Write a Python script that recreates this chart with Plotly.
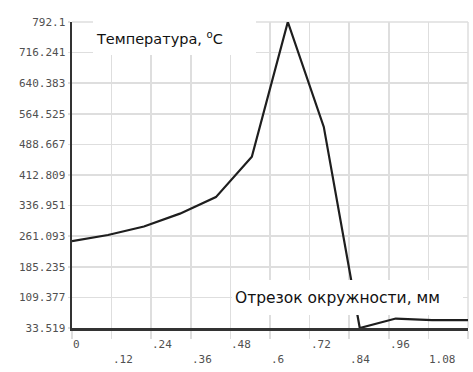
import plotly.graph_objects as go

# ---- data ----
x_vals = [0.0, 0.109, 0.218, 0.327, 0.436, 0.545, 0.654, 0.763, 0.872, 0.981, 1.091, 1.2]
temp_vals = [249, 264, 285, 317, 358, 458, 792.1, 532, 33.519, 57, 53, 53]

y_ticks = [33.519, 109.377, 185.235, 261.093, 336.951, 412.809, 488.667, 564.525, 640.383, 716.241, 792.1]
y_tick_text = ["33.519", "109.377", "185.235", "261.093", "336.951", "412.809",
               "488.667", "564.525", "640.383", "716.241", "792.1"]
x_ticks = [0, 0.12, 0.24, 0.36, 0.48, 0.6, 0.72, 0.84, 0.96, 1.08, 1.2]
x_tick_text = ["0", ".12", ".24", ".36", ".48", ".6", ".72", ".84", ".96", "1.08"]

title_text = "Температура, <sup>o</sup>C"
xlabel_text = "Отрезок окружности, мм"

# ---- figure geometry ----
W, H = 473, 372
L, R, T, B = 72, 5, 22, 44
PW, PH = W - L - R, H - T - B


def px(xp):
    return (xp - L) / PW


def py(yp):
    return (H - B - yp) / PH


fig = go.Figure()
fig.add_trace(go.Scatter(
    x=x_vals, y=temp_vals, mode="lines",
    line=dict(color="#1e1e1e", width=2.2),
    cliponaxis=False, hoverinfo="skip", showlegend=False,
))

grid = "#dedede"
mono = dict(family="DejaVu Sans Mono", size=11, color="#505050")

fig.update_layout(
    width=W, height=H,
    margin=dict(l=L, r=R, t=T, b=B, autoexpand=False),
    paper_bgcolor="white", plot_bgcolor="white",
    showlegend=False,
    xaxis=dict(
        range=[0, 1.2], tickvals=x_ticks, showticklabels=False,
        showgrid=True, gridcolor=grid, gridwidth=1.5,
        ticks="outside", ticklen=8, tickcolor=grid, tickwidth=1.5,
        showline=True, linecolor="#333333", linewidth=2.5,
        zeroline=False, fixedrange=True, automargin=False,
    ),
    yaxis=dict(
        range=[33.519, 792.1], tickvals=y_ticks, ticktext=y_tick_text,
        showgrid=True, gridcolor=grid, gridwidth=1.5,
        ticks="outside", ticklen=2, tickcolor=grid, tickwidth=1.5,
        tickfont=mono,
        showline=True, linecolor="#333333", linewidth=2.5,
        zeroline=False, fixedrange=True, automargin=False,
    ),
)

# right and top border lines (light)
fig.add_shape(type="line", xref="paper", yref="paper", x0=1, x1=1, y0=0, y1=1,
              line=dict(color=grid, width=1.5), layer="below")
fig.add_shape(type="line", xref="paper", yref="paper", x0=0, x1=1, y0=1, y1=1,
              line=dict(color=grid, width=1.5), layer="below")

# white boxes behind the labels
fig.add_shape(type="rect", xref="paper", yref="paper",
              x0=px(93), x1=px(256), y0=py(55), y1=py(14),
              fillcolor="white", line=dict(width=0), layer="above")
fig.add_shape(type="rect", xref="paper", yref="paper",
              x0=px(232), x1=px(463), y0=py(315), y1=py(280),
              fillcolor="white", line=dict(width=0), layer="above")

fig.add_annotation(text=title_text, xref="paper", yref="paper",
                   x=px(94), y=py(38), xanchor="left", yanchor="middle",
                   showarrow=False,
                   font=dict(family="DejaVu Sans", size=14.5, color="#111111"))
fig.add_annotation(text=xlabel_text, xref="paper", yref="paper",
                   x=px(233), y=py(298), xanchor="left", yanchor="middle",
                   showarrow=False,
                   font=dict(family="DejaVu Sans", size=15.5, color="#111111"))

# x tick labels in two staggered rows, left-aligned at the tick
for i, (xv, txt) in enumerate(zip(x_ticks, x_tick_text)):
    fig.add_annotation(text=txt, xref="x", yref="paper", x=xv,
                       y=py(344 if i % 2 == 0 else 359),
                       xanchor="left", yanchor="middle", xshift=-1,
                       showarrow=False, font=mono)

fig.write_html("out.html", config={"displayModeBar": False, "staticPlot": True},
               post_script="document.body.style.margin='0';")
